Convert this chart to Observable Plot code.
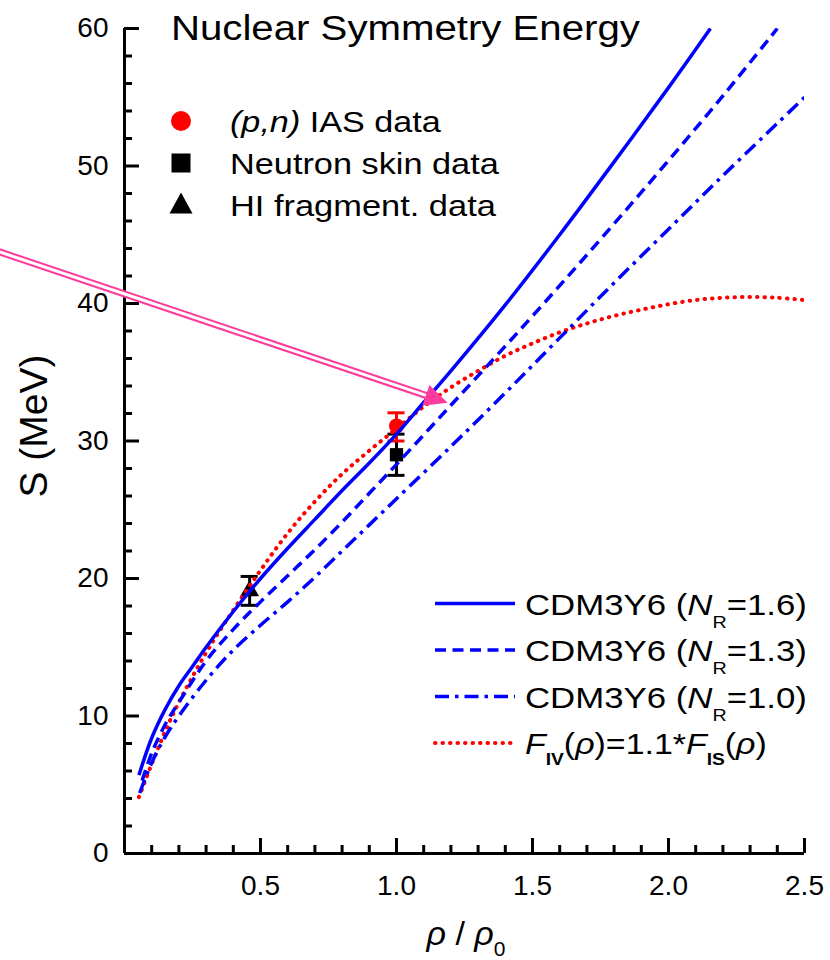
<!DOCTYPE html>
<html>
<head>
<meta charset="utf-8">
<script src="https://cdn.jsdelivr.net/npm/d3@7"></script>
<script src="https://cdn.jsdelivr.net/npm/@observablehq/plot@0.6"></script>
<style>
  html, body { margin: 0; padding: 0; background: #fff; }
  #chart svg { display: block; }
</style>
</head>
<body>
<div id="chart"></div>
<script>
// ---------------- data ----------------
// CDM3Y6 (N_R = 1.6)  solid blue
const rhoNR16 = [0.053,0.1,0.15,0.2,0.25,0.3,0.4,0.5,0.6,0.7,0.8,0.9,1.0,1.1,1.2,1.4,1.6,1.8,2.0,2.154];
const sNR16   = [5.7,8.4,10.5,12.2,13.6,15.0,17.6,20.0,22.2,24.3,26.4,28.4,30.5,32.8,35.1,39.9,45.0,50.3,55.7,60.0];
// CDM3Y6 (N_R = 1.3)  dashed blue
const rhoNR13 = [0.065,0.1,0.15,0.2,0.3,0.4,0.5,0.6,0.7,0.8,0.9,1.0,1.2,1.4,1.6,1.8,2.0,2.2,2.4];
const sNR13   = [5.3,7.3,9.4,11.0,14.0,16.3,18.3,20.2,22.1,24.1,26.2,28.3,32.6,36.9,41.3,45.8,50.4,55.1,60.0];
// CDM3Y6 (N_R = 1.0)  dash-dot blue
const rhoNR10 = [0.056,0.1,0.15,0.2,0.3,0.4,0.5,0.6,0.7,0.8,0.9,1.0,1.2,1.4,1.6,1.8,2.0,2.2,2.4,2.5];
const sNR10   = [4.4,6.6,8.5,10.0,12.6,14.8,16.6,18.3,20.1,22.0,23.9,25.8,29.6,33.5,37.5,41.5,45.4,49.3,53.1,55.0];
// F_IV = 1.1*F_IS  dotted red
const rhoFIV  = [0.053,0.1,0.15,0.2,0.3,0.4,0.5,0.6,0.7,0.8,0.9,1.0,1.1,1.2,1.3,1.4,1.5,1.6,1.7,1.8,1.9,2.0,2.1,2.2,2.3,2.4,2.5];
const sFIV    = [4.1,6.5,8.9,11.0,14.6,17.7,20.6,23.3,25.6,27.6,29.3,30.9,32.5,33.9,35.1,36.2,37.1,37.9,38.55,39.1,39.55,39.95,40.25,40.42,40.48,40.42,40.25];

// experimental points
const iasRho  = [1.0],  iasS  = [31.1], iasLo  = [30.0],  iasHi  = [32.05];
const skinRho = [1.0],  skinS = [29.0], skinLo = [27.5],  skinHi = [30.5];
const hiRho   = [0.46], hiS   = [19.1], hiLo   = [18.05], hiHi   = [20.15];

// ticks
const xMajorTicks = [0.5, 1.0, 1.5, 2.0, 2.5];
const xMinorTicks = [0.1,0.2,0.3,0.4,0.6,0.7,0.8,0.9,1.1,1.2,1.3,1.4,1.6,1.7,1.8,1.9,2.1,2.2,2.3,2.4];
const yMajorTicks = [0, 10, 20, 30, 40, 50, 60];
const yMinorTicks = [2,4,6,8,12,14,16,18,22,24,26,28,32,34,36,38,42,44,46,48,52,54,56,58];

// texts
const titleText = "Nuclear Symmetry Energy";
const yLabel = "S (MeV)";
const dataLegend = ["IAS data", "Neutron skin data", "HI fragment. data"];
const curveLegendNR = ["1.6", "1.3", "1.0"];

// annotation arrow (data coords of tail and tip)
const arrowFrom = [-0.5, 44.0];
const arrowTo   = [1.19, 32.75];

// ---------------- styles ----------------
const BLUE = "#0000ff", RED = "#ff0000", PINK = "#ff3a9d";
const FONT = "'Liberation Sans', Arial, Helvetica, sans-serif";
const styles = {
  nr16: {stroke: BLUE, strokeWidth: 3.5, strokeDasharray: null, strokeLinecap: "butt"},
  nr13: {stroke: BLUE, strokeWidth: 3.5, strokeDasharray: "11,6.5", strokeLinecap: "butt"},
  nr10: {stroke: BLUE, strokeWidth: 3.5, strokeDasharray: "14,6,3.5,6", strokeLinecap: "butt"},
  fiv:  {stroke: RED,  strokeWidth: 4,   strokeDasharray: "0.5,7", strokeLinecap: "round"}
};

const zip = (xs, ys) => xs.map((x, i) => ({x, y: ys[i]}));
const pts = (xs, ys, lo, hi) => xs.map((x, i) => ({x, y: ys[i], lo: lo[i], hi: hi[i]}));

const iasPts = pts(iasRho, iasS, iasLo, iasHi);
const skinPts = pts(skinRho, skinS, skinLo, skinHi);
const hiPts = pts(hiRho, hiS, hiLo, hiHi);

// ---------------- svg helpers ----------------
const NS = "http://www.w3.org/2000/svg";
function el(name, attrs, parent) {
  const e = document.createElementNS(NS, name);
  for (const k in attrs) if (attrs[k] != null) e.setAttribute(k, attrs[k]);
  if (parent) parent.appendChild(e);
  return e;
}
function richText(parent, x, y, parts, attrs) {
  const t = el("text", {x, y, "text-anchor": "start", ...attrs}, parent);
  let shift = 0;
  for (const p of parts) {
    const s = typeof p === "string" ? {t: p} : p;
    const span = el("tspan", {}, t);
    span.textContent = s.t;
    if (s.i) span.setAttribute("font-style", "italic");
    if (s.b) span.setAttribute("font-weight", "bold");
    if (s.size) span.setAttribute("font-size", s.size);
    const want = s.sub || 0;
    if (want !== shift) { span.setAttribute("dy", want - shift); shift = want; }
  }
  return t;
}

function annotations(index, scales) {
  const X = typeof scales.x === "function" ? scales.x : (v) => scales.scales.x.apply(v);
  const Y = typeof scales.y === "function" ? scales.y : (v) => scales.scales.y.apply(v);
  const g = el("g", {"font-family": FONT, fill: "black", "text-anchor": "start"});

  // ---- arrow ----
  const x1 = X(arrowFrom[0]), y1 = Y(arrowFrom[1]), x2 = X(arrowTo[0]), y2 = Y(arrowTo[1]);
  const dx = x2 - x1, dy = y2 - y1, L = Math.hypot(dx, dy), ux = dx / L, uy = dy / L;
  const hl = 23, hw = 11;
  const bx = x2 - ux * hl, by = y2 - uy * hl;
  el("line", {x1, y1, x2: bx + ux * 3, y2: by + uy * 3, stroke: PINK, "stroke-width": 7}, g);
  el("line", {x1, y1, x2: bx + ux * 1, y2: by + uy * 1, stroke: "white", "stroke-width": 3}, g);
  el("polygon", {points: `${x2},${y2} ${bx - uy * hw},${by + ux * hw} ${bx + uy * hw},${by - ux * hw}`, fill: PINK}, g);

  // ---- title ----
  richText(g, 171, 40, [titleText], {"font-size": 36, "data-w": 469});

  // ---- data legend (top-left) ----
  el("circle", {cx: 181, cy: 121, r: 10, fill: RED}, g);
  el("rect", {x: 171.5, y: 153.5, width: 19, height: 19, fill: "black"}, g);
  el("polygon", {points: "181,192.5 169.5,213.5 192.5,213.5", fill: "black"}, g);
  richText(g, 230, 132, [{t: "(p,n)", i: true}, " " + dataLegend[0]], {"font-size": 29, "data-w": 212});
  richText(g, 230, 174.5, [dataLegend[1]], {"font-size": 29, "data-w": 270});
  richText(g, 230, 216.5, [dataLegend[2]], {"font-size": 29, "data-w": 267});

  // ---- curve legend (bottom-right) ----
  const rows = [603.5, 650, 696.5, 743];
  const keys = ["nr16", "nr13", "nr10", "fiv"];
  keys.forEach((k, i) => {
    const s = styles[k];
    el("line", {x1: 435, x2: 515, y1: rows[i], y2: rows[i], stroke: s.stroke, "stroke-width": s.strokeWidth,
      "stroke-dasharray": s.strokeDasharray, "stroke-linecap": s.strokeLinecap}, g);
  });
  curveLegendNR.forEach((nr, i) => {
    richText(g, 525, rows[i] + 11.5, ["CDM3Y6 (", {t: "N", i: true}, {t: "R", size: 17, sub: 13}, "=" + nr + ")"],
      {"font-size": 30, "data-w": 282});
  });
  richText(g, 525, rows[3] + 11.5, [{t: "F", i: true}, {t: "IV", b: true, size: 17, sub: 11}, "(", {t: "ρ", i: true}, ")=1.1*",
    {t: "F", i: true}, {t: "IS", b: true, size: 17, sub: 11}, "(", {t: "ρ", i: true}, ")"],
    {"font-size": 30, "data-w": 242});

  // ---- axis titles ----
  const yl = el("text", {x: 0, y: 0, "font-size": 39, "text-anchor": "middle",
    transform: "translate(47,426) rotate(-90)"}, g);
  yl.textContent = yLabel;
  richText(g, 466, 945, [{t: "ρ", i: true}, " / ", {t: "ρ", i: true}, {t: "0", size: 21, sub: 11}],
    {"font-size": 34, "text-anchor": "middle"});
  return g;
}

// ---------------- plot ----------------
const capOpts = (stroke) => ({x1: "x", x2: "x", stroke, strokeWidth: 3, insetLeft: -8.5, insetRight: -8.5});

const chart = Plot.plot({
  width: 830,
  height: 960,
  marginLeft: 124,
  marginRight: 26,
  marginTop: 28,
  marginBottom: 107,
  x: {domain: [0, 2.5]},
  y: {domain: [0, 60]},
  style: {fontFamily: FONT, fontSize: "28px", color: "black", background: "white"},
  marks: [
    // error bars and data points
    Plot.ruleX(hiPts, {x: "x", y1: "lo", y2: "hi", stroke: "black", strokeWidth: 3}),
    Plot.ruleY(hiPts, {y: "lo", ...capOpts("black")}),
    Plot.ruleY(hiPts, {y: "hi", ...capOpts("black")}),
    Plot.ruleX(skinPts, {x: "x", y1: "lo", y2: "hi", stroke: "black", strokeWidth: 3}),
    Plot.ruleY(skinPts, {y: "lo", ...capOpts("black")}),
    Plot.ruleY(skinPts, {y: "hi", ...capOpts("black")}),
    Plot.ruleX(iasPts, {x: "x", y1: "lo", y2: "hi", stroke: RED, strokeWidth: 3}),
    Plot.ruleY(iasPts, {y: "lo", ...capOpts(RED)}),
    Plot.ruleY(iasPts, {y: "hi", ...capOpts(RED)}),
    Plot.dot(iasPts, {x: "x", y: "y", r: 7.5, fill: RED, symbol: "circle"}),
    Plot.dot(skinPts, {x: "x", y: "y", r: 7.5, fill: "black", symbol: "square"}),
    Plot.dot(hiPts, {x: "x", y: "y", r: 7, fill: "black", symbol: "triangle"}),

    // model curves
    Plot.line(zip(rhoFIV, sFIV), {x: "x", y: "y", curve: "catmull-rom", clip: true, ...styles.fiv}),
    Plot.line(zip(rhoNR10, sNR10), {x: "x", y: "y", curve: "catmull-rom", clip: true, ...styles.nr10}),
    Plot.line(zip(rhoNR13, sNR13), {x: "x", y: "y", curve: "catmull-rom", clip: true, ...styles.nr13}),
    Plot.line(zip(rhoNR16, sNR16), {x: "x", y: "y", curve: "catmull-rom", clip: true, ...styles.nr16}),

    // axes: inward ticks
    Plot.axisY(yMajorTicks, {tickSize: -15, strokeWidth: 3, fill: "none", label: null}),
    Plot.axisY(yMinorTicks, {tickSize: -8, strokeWidth: 3, fill: "none", label: null}),
    Plot.axisY(yMajorTicks, {tickSize: 0, tickPadding: 16, fontSize: 28, label: null, tickFormat: (d) => String(d)}),
    Plot.axisX(xMajorTicks, {tickSize: -15, strokeWidth: 3, fill: "none", label: null}),
    Plot.axisX(xMinorTicks, {tickSize: -8, strokeWidth: 3, fill: "none", label: null}),
    Plot.axisX(xMajorTicks, {tickSize: 0, tickPadding: 22, fontSize: 28, label: null, tickFormat: d3.format(".1f")}),
    Plot.ruleX([0], {stroke: "black", strokeWidth: 3}),
    Plot.ruleY([0], {stroke: "black", strokeWidth: 3}),

    // annotations, legends, titles
    annotations
  ]
});

document.getElementById("chart").append(chart);

// stretch wide texts horizontally to match the reference widths
chart.querySelectorAll("text[data-w]").forEach((t) => {
  const w = t.getBBox().width;
  const target = +t.getAttribute("data-w");
  if (w > 0) {
    const x = +t.getAttribute("x"), y = +t.getAttribute("y");
    t.setAttribute("transform", `translate(${x},${y}) scale(${target / w},1) translate(${-x},${-y})`);
  }
});
</script>
</body>
</html>
